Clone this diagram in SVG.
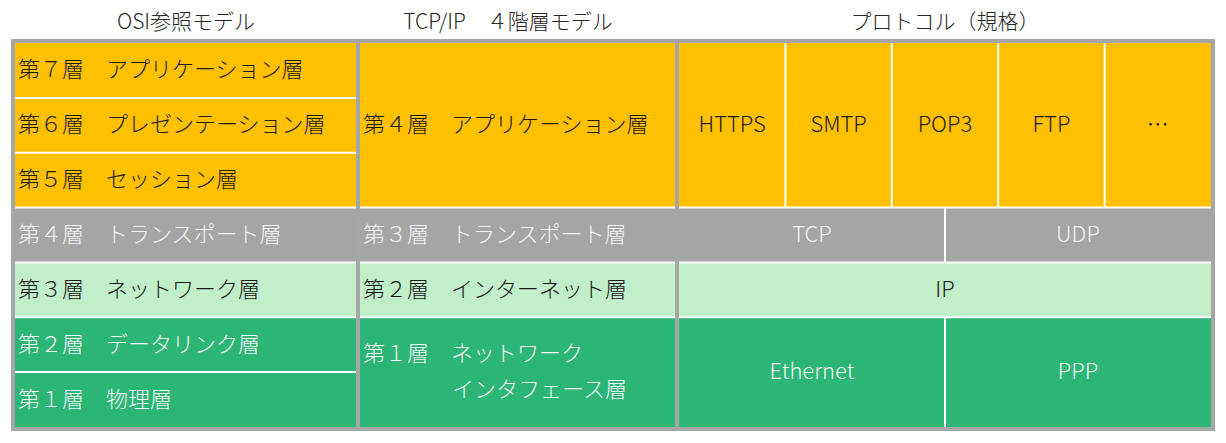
<svg xmlns="http://www.w3.org/2000/svg" width="1226" height="443" viewBox="0 0 1226 443">
<style>
text{font-family:"Noto Sans CJK JP","Noto Sans",sans-serif;font-size:22px;font-weight:300;dominant-baseline:central}
.hd{fill:#262626;font-size:21px;text-anchor:middle}
.dk{fill:#1a1a1a}
.lt{fill:#f4f4f4}
.c{text-anchor:middle}
.y{fill:#FFC000}
.g{fill:#A5A5A5}
.lg{fill:#C1EFC9}
.dg{fill:#2BB676}
.sep{stroke:#ffffff;stroke-width:2;fill:none}
</style>
<rect width="1226" height="443" fill="#ffffff"/>
<g id="headers">
<text class="hd" x="186" y="20">OSI参照モデル</text>
<text class="hd" x="508" y="20">TCP/IP　４階層モデル</text>
<text class="hd" x="945" y="20">プロトコル（規格）</text>
</g>
<rect id="frame" x="11" y="39" width="1204" height="392" fill="#A6A6A6"/>
<g id="osi">
<g id="osi7"><rect class="y" x="15" y="43" width="341" height="54.9"/><text class="dk" x="18" y="67.4">第７層　アプリケーション層</text></g>
<g id="osi6"><rect class="y" x="15" y="97.9" width="341" height="54.8"/><text class="dk" x="18" y="122.3">第６層　プレゼンテーション層</text></g>
<g id="osi5"><rect class="y" x="15" y="152.7" width="341" height="54.9"/><text class="dk" x="18" y="177.1">第５層　セッション層</text></g>
<g id="osi4"><rect class="g" x="15" y="207.6" width="341" height="54.8"/><text class="lt" x="18" y="232">第４層　トランスポート層</text></g>
<g id="osi3"><rect class="lg" x="15" y="262.4" width="341" height="54.9"/><text class="dk" x="18" y="286.9">第３層　ネットワーク層</text></g>
<g id="osi2"><rect class="dg" x="15" y="317.3" width="341" height="54.8"/><text class="lt" x="18" y="341.7">第２層　データリンク層</text></g>
<g id="osi1"><rect class="dg" x="15" y="372.1" width="341" height="54.9"/><text class="lt" x="18" y="396.6">第１層　物理層</text></g>
</g>
<g id="tcpip">
<g id="tcp4"><rect class="y" x="360" y="43" width="315" height="164.6"/><text class="dk" x="363" y="122.3">第４層　アプリケーション層</text></g>
<g id="tcp3"><rect class="g" x="360" y="207.6" width="315" height="54.8"/><text class="lt" x="363" y="232">第３層　トランスポート層</text></g>
<g id="tcp2"><rect class="lg" x="360" y="262.4" width="315" height="54.9"/><text class="dk" x="363" y="286.9">第２層　インターネット層</text></g>
<g id="tcp1"><rect class="dg" x="360" y="317.3" width="315" height="109.7"/><text class="lt" x="363" y="351">第１層　ネットワーク</text><text class="lt" x="452" y="387">インタフェース層</text></g>
</g>
<g id="protocols">
<g id="p-https"><rect class="y" x="679" y="43" width="106.4" height="164.6"/><text class="dk c" x="732.2" y="122.3">HTTPS</text></g>
<g id="p-smtp"><rect class="y" x="785.4" y="43" width="106.4" height="164.6"/><text class="dk c" x="838.6" y="122.3">SMTP</text></g>
<g id="p-pop3"><rect class="y" x="891.8" y="43" width="106.4" height="164.6"/><text class="dk c" x="945" y="122.3">POP3</text></g>
<g id="p-ftp"><rect class="y" x="998.2" y="43" width="106.4" height="164.6"/><text class="dk c" x="1051.4" y="122.3">FTP</text></g>
<g id="p-etc"><rect class="y" x="1104.6" y="43" width="106.4" height="164.6"/><text class="dk c" x="1157.8" y="122.3">…</text></g>
<g id="p-tcp"><rect class="g" x="679" y="207.6" width="266" height="54.8"/><text class="lt c" x="812" y="232">TCP</text></g>
<g id="p-udp"><rect class="g" x="945" y="207.6" width="266" height="54.8"/><text class="lt c" x="1078" y="232">UDP</text></g>
<g id="p-ip"><rect class="lg" x="679" y="262.4" width="532" height="54.9"/><text class="dk c" x="945" y="286.9">IP</text></g>
<g id="p-eth"><rect class="dg" x="679" y="317.3" width="266" height="109.7"/><text class="lt c" x="812" y="369">Ethernet</text></g>
<g id="p-ppp"><rect class="dg" x="945" y="317.3" width="266" height="109.7"/><text class="lt c" x="1078" y="369">PPP</text></g>
</g>
<g id="separators" class="sep">
<path d="M15 97.9H356M15 152.7H356M15 372.1H356"/>
<path d="M15 207.6H356M360 207.6H675M679 207.6H1211"/>
<path d="M15 262.4H356M360 262.4H675M679 262.4H1211"/>
<path d="M15 317.3H356M360 317.3H675M679 317.3H1211"/>
<path d="M785.4 43V207.6M891.8 43V207.6M998.2 43V207.6M1104.6 43V207.6"/>
<path d="M945 207.6V262.4M945 317.3V427"/>
</g>
</svg>
